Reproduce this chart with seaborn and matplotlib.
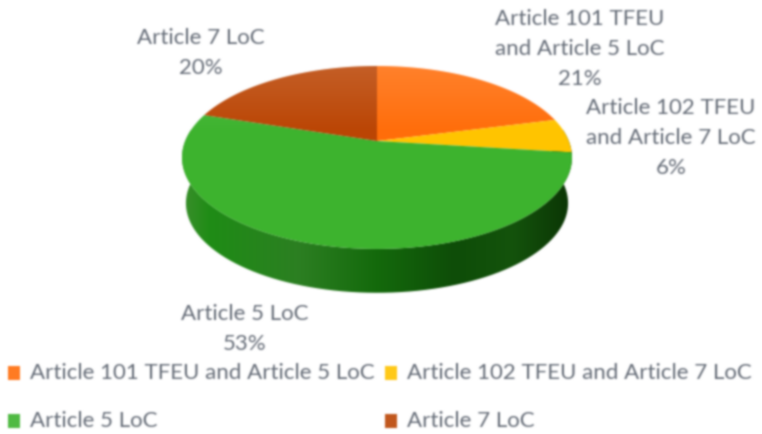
import numpy as np
import matplotlib
matplotlib.use("Agg")
import matplotlib.pyplot as plt
from matplotlib.colors import LinearSegmentedColormap
from matplotlib.patches import Rectangle, PathPatch
from matplotlib.path import Path
from matplotlib.transforms import Transform, Affine2D
import seaborn as sns

categories = ["Article 101 TFEU and Article 5 LoC", "Article 102 TFEU and Article 7 LoC",
              "Article 5 LoC", "Article 7 LoC"]
values = [21, 6, 53, 20]
top_colors = ["#ff6d0a", "#ffc400", "#3db32e", "#bb4504"]
label_text = ["Article 101 TFEU\nand Article 5 LoC\n21%", "Article 102 TFEU\nand Article 7 LoC\n6%",
              "Article 5 LoC\n53%", "Article 7 LoC\n20%"]
label_px = [(580, 49), (671, 138), (245, 329), (201, 53)]
side_stops = [(0, "#3a8f2c"), (.07, "#1f8c16"), (.3, "#2c7f22"), (.5, "#146a0c"),
              (.7, "#0e4d08"), (.85, "#14530c"), (1, "#0b3505")]

sns.set_theme(style="white")
plt.rcParams["font.family"] = ["Lato", "DejaVu Sans"]
W, H = 762, 434
TXT = "#666d78"
FS = 16
fig = plt.figure(figsize=(W / 100, H / 100), dpi=100, facecolor="white")
ax = fig.add_axes([0, 0, 1, 1])

CX, CY, RX, RY, K = 377.0, 141.0, 191.8, 88.5, 0.18


def project(xy, scale=1.0, shift=0.0):
    x, y = xy[:, 0], xy[:, 1]
    d = 1 + K * y
    return np.c_[CX + scale * RX * x / d, CY + shift - scale * RY * y / d]


class Tilt(Transform):
    input_dims = output_dims = 2
    is_separable = False
    has_inverse = False

    def transform_non_affine(self, values):
        return project(np.asarray(values))

    def transform_path_non_affine(self, path):
        big = path.transformed(Affine2D().scale(2000))
        poly = np.vstack(big.to_polygons(closed_only=True)) / 2000
        return Path(self.transform_non_affine(poly), closed=True)


# side of the disc
t = np.radians(np.linspace(165, 375, 300))
rim = np.c_[np.cos(t), np.sin(t)]
upper = project(rim)
lower = project(rim, scale=0.98, shift=46)
side = PathPatch(Path(np.r_[upper, lower[::-1]]), transform=ax.transData, fc="none", ec="none")
ax.add_patch(side)
cm = LinearSegmentedColormap.from_list("side", side_stops)
im = ax.imshow(np.linspace(0, 1, 256)[None, :], extent=(182, 572, 296, 130), cmap=cm,
               aspect="auto", zorder=1)
im.set_clip_path(side)

# top face
wedges, _ = ax.pie(values, colors=top_colors, startangle=90, counterclock=False, radius=1,
                   wedgeprops=dict(linewidth=0, edgecolor="none", zorder=2))
tilt = Tilt()
for w in wedges:
    w.set_transform(tilt + ax.transData)

t2 = np.radians(np.linspace(0, 360, 361))
face = PathPatch(Path(project(np.c_[np.cos(t2), np.sin(t2)])), transform=ax.transData, fc="none", ec="none")
ax.add_patch(face)
shine = LinearSegmentedColormap.from_list("shine", [(1, 1, 1, 0.14), (1, 1, 1, 0.0)])
im2 = ax.imshow(np.linspace(0, 1, 128)[:, None], extent=(182, 572, 135, 66), cmap=shine,
                aspect="auto", zorder=3, origin="upper")
im2.set_clip_path(face)

ax.set_aspect("auto")
ax.set_xlim(0, W)
ax.set_ylim(H, 0)
ax.axis("off")

for s, (x, y) in zip(label_text, label_px):
    ax.text(x, y, s, ha="center", va="center", fontsize=FS, color=TXT, linespacing=1.62)

# legend
leg_px = [(8, 373), (385, 373), (8, 421), (385, 421)]
for c, name, (x, y) in zip(top_colors, categories, leg_px):
    ax.add_patch(Rectangle((x, y - 7), 12, 14, fc=c, ec="none", alpha=0.9))
    ax.text(x + 22, y, name, ha="left", va="center", fontsize=FS, color=TXT)

fig.savefig("out.png", dpi=100)

# the reference is a soft, low-resolution scan: apply the same softness
img = plt.imread("out.png")[:, :, :3]
kernel = np.array([0.06, 0.24, 0.40, 0.24, 0.06])
for axis in (0, 1):
    img = np.apply_along_axis(lambda m: np.convolve(np.pad(m, 2, mode="edge"), kernel, mode="valid"), axis, img)
plt.imsave("out.png", np.clip(img, 0, 1))
